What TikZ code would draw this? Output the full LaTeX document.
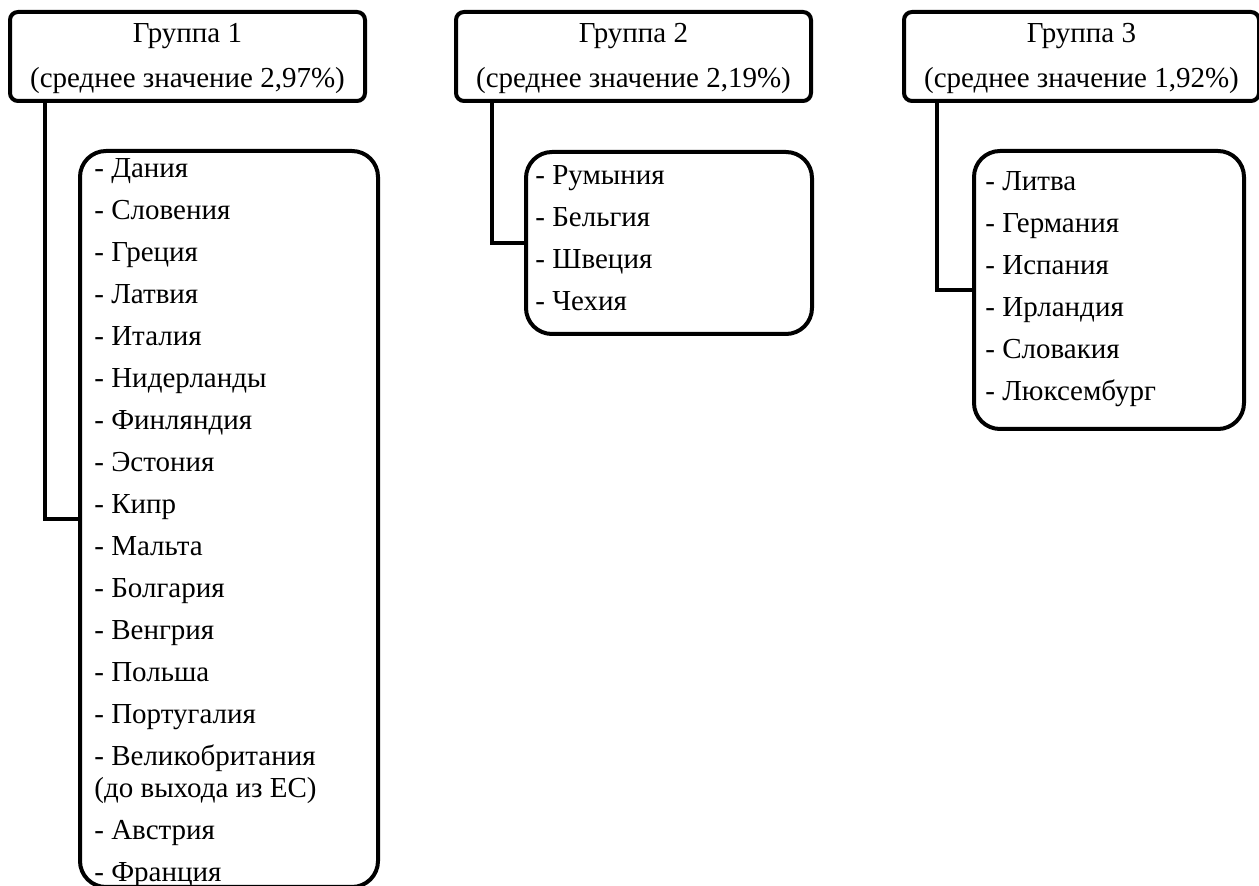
\documentclass[tikz,border=0pt]{standalone}
\usepackage{fontspec}
\setmainfont{Liberation Serif}
\usetikzlibrary{positioning}

\begin{document}
\begin{tikzpicture}[x=0.5pt, y=-0.5pt,
  head/.style={rectangle, rounded corners=4pt, draw=black, line width=2pt,
              minimum width=177.5pt, minimum height=44.5pt, inner sep=0pt,
              align=center, font=\fontsize{14.5}{21}\selectfont},
  listbox/.style={rectangle, rounded corners=13pt, draw=black, line width=2pt,
              inner sep=0pt},
  itemtext/.style={anchor=north west, inner sep=0pt, align=left,
              font=\fontsize{14.5}{21}\selectfont},
  link/.style={line width=2pt},
  node distance=44pt
]
  \useasboundingbox (0,0) rectangle (1259,886);
  % group headers
  \node[head] (head1) at (187.5,56.5) {\strut Группа 1\\[1.5pt]\strut (среднее значение 2,97\%)};
  \node[head, right=43.5pt of head1] (head2) {\strut Группа 2\\[1.5pt]\strut (среднее значение 2,19\%)};
  \node[head, right=44.5pt of head2] (head3) {\strut Группа 3\\[1.5pt]\strut (среднее значение 1,92\%)};
  % country lists
  \node[listbox, below=23pt of head1.south west, anchor=north west, xshift=35pt,
        minimum width=149pt, minimum height=368pt] (list1) {};
  \node[listbox, below=23.5pt of head2.south west, anchor=north west, xshift=35pt,
        minimum width=143pt, minimum height=91pt] (list2) {};
  \node[listbox, below=23pt of head3.south west, anchor=north west, xshift=35pt,
        minimum width=135pt, minimum height=139pt] (list3) {};
  \node[itemtext] (items1) at ([xshift=8pt, yshift=0.7pt]list1.north west)
    {\strut- Дания\\- Словения\\- Греция\\- Латвия\\- Италия\\- Нидерланды\\- Финляндия\\- Эстония\\- Кипр\\- Мальта\\- Болгария\\- Венгрия\\- Польша\\- Португалия\\- Великобритания\\[-5pt](до выхода из ЕС)\\- Австрия\\- Франция};
  \node[itemtext] (items2) at ([xshift=5.5pt, yshift=-2.5pt]list2.north west)
    {\strut- Румыния\\- Бельгия\\- Швеция\\- Чехия};
  \node[itemtext] (items3) at ([xshift=6.5pt, yshift=-6pt]list3.north west)
    {\strut- Литва\\- Германия\\- Испания\\- Ирландия\\- Словакия\\- Люксембург};
  % connectors
  \draw[link] ([xshift=18.5pt]head1.south west) |- (list1.west);
  \draw[link] ([xshift=19pt]head2.south west) |- (list2.west);
  \draw[link] ([xshift=17.5pt]head3.south west) |- (list3.west);
\end{tikzpicture}
\end{document}
